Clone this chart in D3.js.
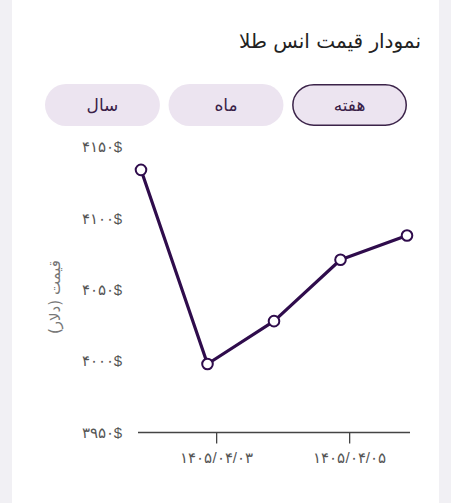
<!DOCTYPE html>
<html lang="fa">
<head>
    <meta charset="UTF-8">
    <title>نمودار قیمت انس طلا</title>
    <script src="https://d3js.org/d3.v7.min.js"></script>
    <style>
        html, body {
            margin: 0;
            padding: 0;
            background: #f1f0f4;
            font-family: "DejaVu Sans", "Noto Sans", sans-serif;
        }
        .axis text {
            fill: #555;
            font-size: 15px;
        }
    </style>
</head>
<body>
<script>

    var width = 451,
        height = 503;

    // data
    var periods = ["سال", "ماه", "هفته"];
    var selectedPeriod = "هفته";
    var days = [1.87, 2.87, 3.87, 4.87, 5.87];   // day of month (fractional)
    var prices = [4134, 3998, 4028, 4071, 4088];
    var yTicks = [3950, 4000, 4050, 4100, 4150];
    var xTicks = [3, 5];
    var xTickLabels = ["۱۴۰۵/۰۴/۰۳", "۱۴۰۵/۰۴/۰۵"];

    var toFa = function(n) {
        return String(n).replace(/[0-9]/g, function(c) { return "۰۱۲۳۴۵۶۷۸۹"[+c]; });
    };

    var svg = d3.select("body").append("svg")
        .attr("width", width)
        .attr("height", height)
        .style("display", "block");

    // card
    svg.append("rect")
        .attr("x", 12)
        .attr("y", -20)
        .attr("width", 427)
        .attr("height", height + 40)
        .attr("rx", 14)
        .attr("fill", "#fff");

    svg.append("text")
        .attr("x", 421)
        .attr("y", 48)
        .attr("text-anchor", "end")
        .attr("fill", "#222")
        .style("font-size", "20px")
        .style("font-weight", 500)
        .text("نمودار قیمت انس طلا");

    // period buttons
    var bx = d3.scaleBand()
        .domain(periods)
        .range([45, 407])
        .paddingInner(0.07);

    var btn = svg.selectAll(".btn")
        .data(periods)
        .enter().append("g")
        .attr("class", "btn")
        .attr("transform", function(d) { return "translate(" + bx(d) + ",84)"; });

    btn.append("rect")
        .attr("x", function(d) { return d == selectedPeriod ? 0.75 : 0; })
        .attr("y", function(d) { return d == selectedPeriod ? 0.75 : 0; })
        .attr("width", function(d) { return d == selectedPeriod ? bx.bandwidth() - 1.5 : bx.bandwidth(); })
        .attr("height", function(d) { return d == selectedPeriod ? 40.5 : 42; })
        .attr("rx", 21)
        .attr("fill", "#ece4f0")
        .attr("stroke", function(d) { return d == selectedPeriod ? "#3b2349" : "none"; })
        .attr("stroke-width", 1.5);

    btn.append("text")
        .attr("x", bx.bandwidth() / 2)
        .attr("y", 21)
        .attr("dy", "0.35em")
        .attr("text-anchor", "middle")
        .attr("fill", "#3a2148")
        .style("font-size", "17px")
        .text(function(d) { return d; });

    // scales
    var x = d3.scaleLinear()
        .domain([days[0] - 0.045, days[days.length - 1] + 0.045])
        .range([138, 410]);

    var y = d3.scaleLinear()
        .domain([3950, 4150])
        .range([432.5, 147]);

    var xAxis = svg.append("g")
        .attr("class", "axis")
        .attr("transform", "translate(0," + y(3950) + ")")
        .call(d3.axisBottom(x)
            .tickValues(xTicks)
            .tickSize(11)
            .tickPadding(9)
            .tickFormat(function(d, i) { return xTickLabels[i]; }));

    xAxis.select(".domain")
        .attr("stroke", "#444")
        .attr("stroke-width", 1.3)
        .attr("d", "M" + x.range()[0] + ",0H" + x.range()[1]);
    xAxis.selectAll(".tick line").attr("stroke", "#444").attr("stroke-width", 1.3);

    var yAxis = svg.append("g")
        .attr("class", "axis")
        .attr("transform", "translate(122,0)")
        .call(d3.axisLeft(y)
            .tickValues(yTicks)
            .tickSize(0)
            .tickPadding(0)
            .tickFormat(function(d) { return toFa(d) + "$"; }));

    yAxis.select(".domain").remove();

    svg.append("text")
        .attr("transform", "translate(55,297) rotate(-90)")
        .attr("text-anchor", "middle")
        .attr("dy", "0.35em")
        .attr("fill", "#777")
        .style("font-size", "15px")
        .text("قیمت (دلار)");

    // line + points
    var line = d3.line()
        .x(function(d, i) { return x(days[i]); })
        .y(function(d) { return y(d); });

    svg.append("path")
        .datum(prices)
        .attr("fill", "none")
        .attr("stroke", "#2f0c4c")
        .attr("stroke-width", 3.2)
        .attr("stroke-linejoin", "round")
        .attr("d", line);

    svg.selectAll(".dot")
        .data(prices)
        .enter().append("circle")
        .attr("class", "dot")
        .attr("cx", function(d, i) { return x(days[i]); })
        .attr("cy", function(d) { return y(d); })
        .attr("r", 5.3)
        .attr("fill", "#fff")
        .attr("stroke", "#2f0c4c")
        .attr("stroke-width", 2);

</script>
</body>
</html>
